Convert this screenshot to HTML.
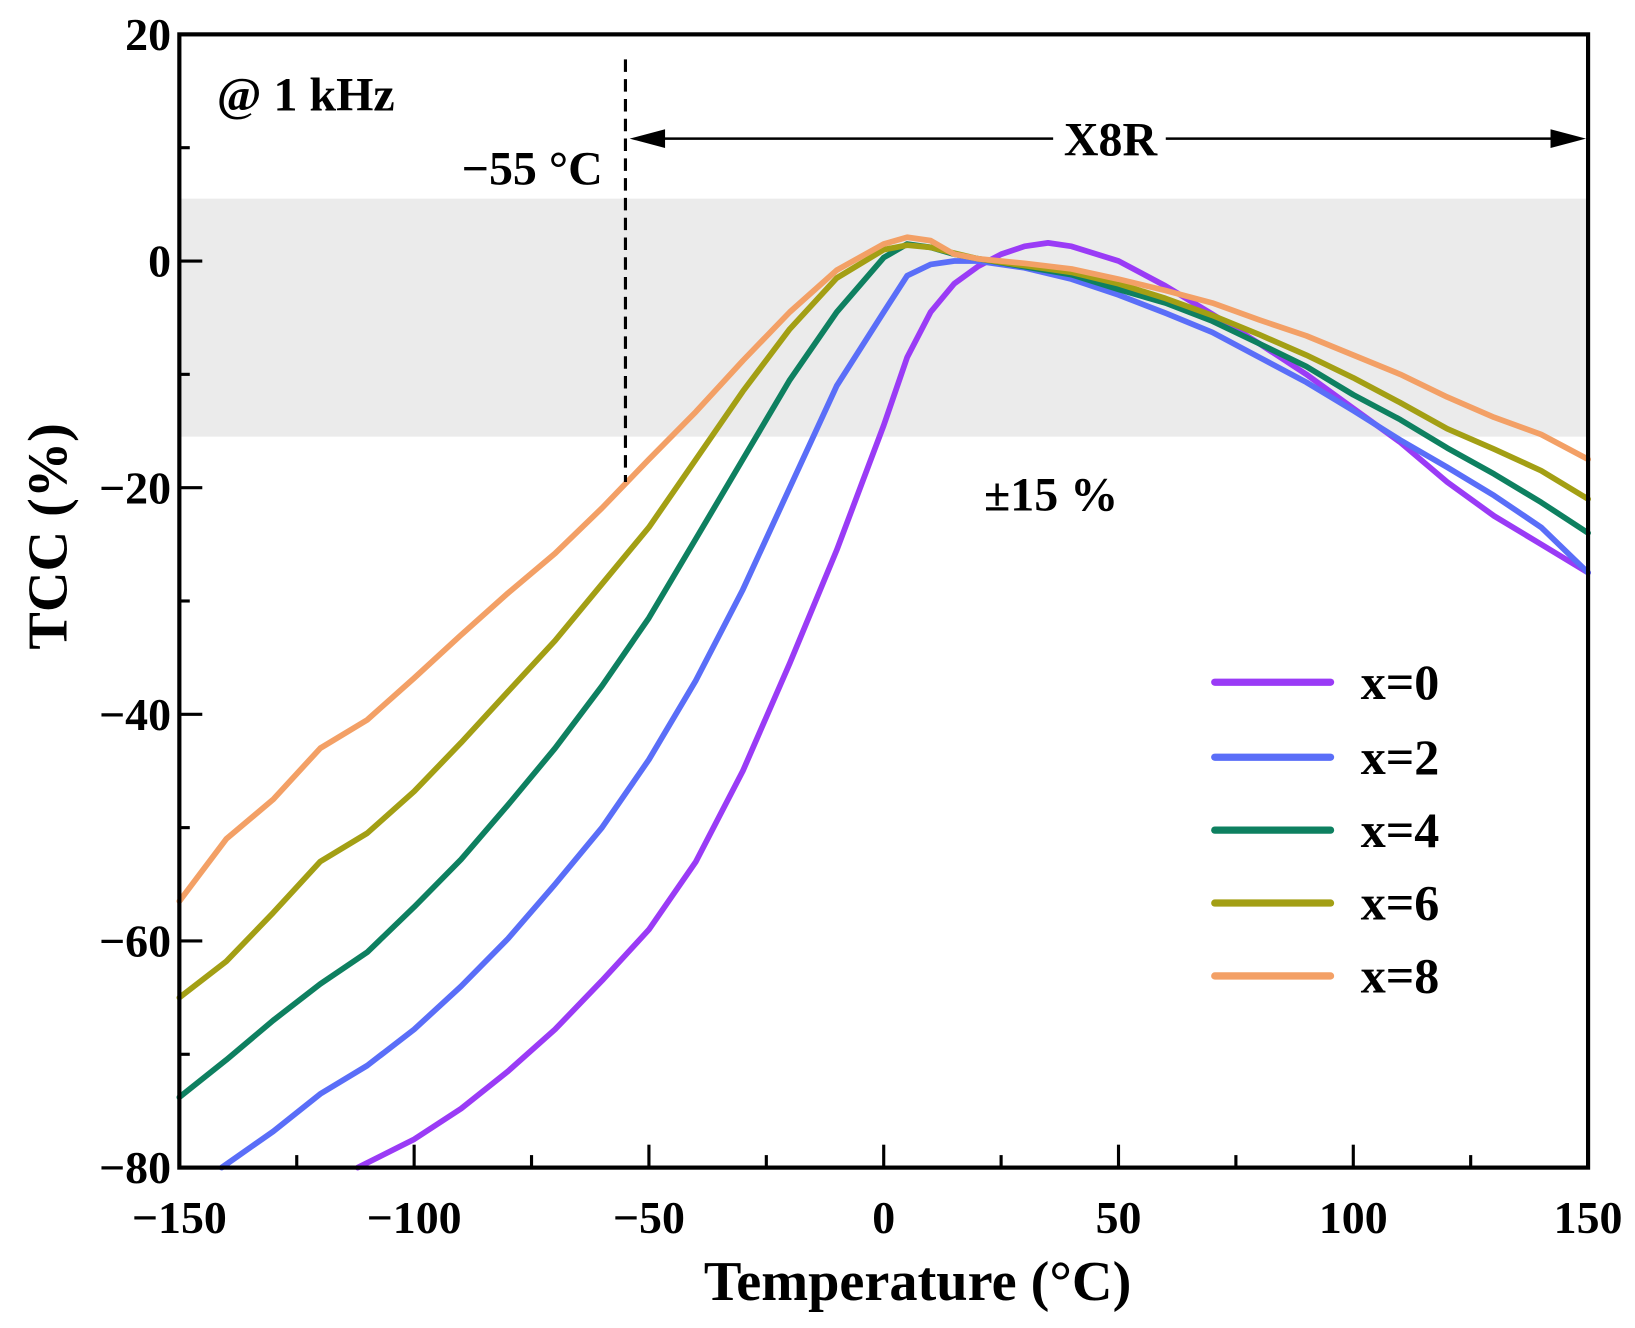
<!DOCTYPE html>
<html><head><meta charset="utf-8"><style>
html,body{margin:0;padding:0;background:#fff;}
svg{display:block;}
text{font-family:"Liberation Serif",serif;font-weight:bold;fill:#000;}
</style></head><body>
<svg id="chart" width="1635" height="1328" viewBox="0 0 1568 1275" preserveAspectRatio="none" xmlns="http://www.w3.org/2000/svg">
<g id="plot"></g>
</svg>
<script>
const xTicks=[-150,-100,-50,0,50,100,150];
const yTicks=[20,0,-20,-40,-60,-80];
const seriesNames=["x=0","x=2","x=4","x=6","x=8"];
const seriesColors=["#9a3bf6","#5a6ef8","#0e8060","#a39f14","#f3a066"];
const temps0=[-112,-100,-90,-80,-70,-60,-50,-40,-30,-20,-10,-5,0,5,10,15,20,25,30,35,40,50,60,70,80,90,100,110,120,130,140,150];
const tcc0=[-80,-77.5,-74.8,-71.5,-67.8,-63.5,-59,-53,-45,-35.5,-25.5,-20,-14.5,-8.5,-4.5,-2,-0.5,0.6,1.3,1.6,1.3,0,-2.2,-4.7,-7.3,-10,-13,-16,-19.5,-22.5,-25,-27.5];
const temps2=[-141,-130,-120,-110,-100,-90,-80,-70,-60,-50,-40,-30,-20,-10,0,5,10,15,20,30,40,50,60,70,80,90,100,110,120,130,140,150];
const tcc2=[-80,-76.8,-73.5,-71,-67.8,-64,-59.8,-55,-50,-44,-37,-29,-20,-11,-4.5,-1.3,-0.3,0,0,-0.6,-1.6,-3,-4.6,-6.3,-8.5,-10.7,-13.2,-15.8,-18.2,-20.7,-23.5,-27.5];
const temps=[-150,-140,-130,-120,-110,-100,-90,-80,-70,-60,-50,-40,-30,-20,-10,0,5,10,15,20,30,40,50,60,70,80,90,100,110,120,130,140,150];
const tcc4=[-73.8,-70.5,-67,-63.8,-61,-57,-52.8,-48,-43,-37.5,-31.5,-24.5,-17.5,-10.5,-4.5,0.3,1.5,1.2,0.6,0.2,-0.5,-1.2,-2.5,-3.7,-5.3,-7.3,-9.3,-11.8,-14,-16.5,-18.8,-21.3,-24];
const tcc6=[-65,-61.8,-57.5,-53,-50.5,-46.8,-42.5,-38,-33.5,-28.5,-23.5,-17.5,-11.5,-6,-1.5,1,1.4,1.2,0.7,0.2,-0.4,-1,-2,-3.3,-4.8,-6.5,-8.3,-10.3,-12.5,-14.8,-16.6,-18.5,-21];
const tcc8=[-56.5,-51,-47.5,-43,-40.5,-36.8,-33,-29.3,-25.8,-21.8,-17.5,-13.3,-8.8,-4.5,-0.8,1.5,2.1,1.8,0.6,0.2,-0.2,-0.7,-1.6,-2.6,-3.7,-5.2,-6.6,-8.3,-10,-12,-13.8,-15.3,-17.5];
const seriesX=[temps0,temps2,temps,temps,temps];
const seriesY=[tcc0,tcc2,tcc4,tcc6,tcc8];
const bandRange=[5.5,-15.5];

const L=172,R=1523,T=33,B=1121;
const sx=v=>L+(v+150)/300*(R-L);
const sy=v=>T+(20-v)/100*(B-T);
const NS="http://www.w3.org/2000/svg";
const g=document.getElementById('plot');
function mk(tag,attrs,parent){const e=document.createElementNS(NS,tag);for(const k in attrs)e.setAttribute(k,attrs[k]);(parent||g).appendChild(e);return e;}

const band=mk('rect',{x:L,y:sy(bandRange[0]),width:R-L,height:sy(bandRange[1])-sy(bandRange[0]),fill:'#ebebeb'});



seriesY.forEach((ys,i)=>{
  const pts=ys.map((v,j)=>sx(seriesX[i][j]).toFixed(1)+','+sy(v).toFixed(1)).join(' ');
  const p=mk('polyline',{points:pts,fill:'none',stroke:seriesColors[i],'stroke-width':5.5,'stroke-linejoin':'round','stroke-linecap':'round'});
  
  
});

const dl=mk('line',{x1:sx(-55),y1:57,x2:sx(-55),y2:sy(-19.5),stroke:'#000','stroke-width':3,'stroke-dasharray':'12,7'});


const ay=sy(10.8);
const ar=mk('line',{x1:sx(-55)+20,y1:ay,x2:R-20,y2:ay,stroke:'#000','stroke-width':2.5});


const h1=mk('polygon',{points:`${sx(-55)+4},${ay} ${sx(-55)+38},${ay-9} ${sx(-55)+38},${ay+9}`,fill:'#000'});


const h2=mk('polygon',{points:`${R-2},${ay} ${R-36},${ay-9} ${R-36},${ay+9}`,fill:'#000'});


const xr=mk('rect',{x:1010,y:ay-22,width:108,height:44,fill:'#fff'});



function txt(s,attrs,name){const t=mk('text',attrs);t.textContent=s;return t;}
txt('X8R',{x:1065,y:ay+16,'text-anchor':'middle','font-size':46},'x8r-label');
txt('\u221255 \u00B0C',{x:578,y:177,'text-anchor':'end','font-size':46},'minus55-label');
txt('\u00B115 %',{x:1008,y:490,'text-anchor':'middle','font-size':46},'tolerance-label');
txt('@ 1 kHz',{x:208,y:106,'font-size':46},'frequency-label');

for(let v=-150;v<=150;v+=25){
  const len=(v%50===0)?22:12;
  const t=mk('line',{x1:sx(v),y1:B,x2:sx(v),y2:B-len,stroke:'#000','stroke-width':3});
  
  
}
for(let v=-80;v<=20;v+=10){
  const len=(v%20===0)?22:10;
  const t=mk('line',{x1:L,y1:sy(v),x2:L+len,y2:sy(v),stroke:'#000','stroke-width':3});
  
  
}
xTicks.forEach(v=>txt(v<0?'\u2212'+(-v):String(v),{x:sx(v),y:1184,'text-anchor':'middle','font-size':44},'x-tick-label'));
yTicks.forEach(v=>txt(v<0?'\u2212'+(-v):String(v),{x:L-8,y:sy(v)+15,'text-anchor':'end','font-size':44},'y-tick-label'));

const fr=mk('rect',{x:L,y:T,width:R-L,height:B-T,fill:'none',stroke:'#000','stroke-width':4});



txt('Temperature (\u00B0C)',{x:880,y:1248,'text-anchor':'middle','font-size':54},'x-axis-title');
txt('TCC (%)',{x:0,y:0,'text-anchor':'middle','font-size':54,transform:'translate(64,515) rotate(-90)'},'y-axis-title');

const lys=[655,727,797,867,937];
seriesNames.forEach((n,i)=>{
  const l=mk('line',{x1:1165,y1:lys[i],x2:1276,y2:lys[i],stroke:seriesColors[i],'stroke-width':7,'stroke-linecap':'round'});
  
  
  txt(n,{x:1305,y:lys[i]+16,'font-size':48},'legend-entry-'+n);
});
</script>
</body></html>
